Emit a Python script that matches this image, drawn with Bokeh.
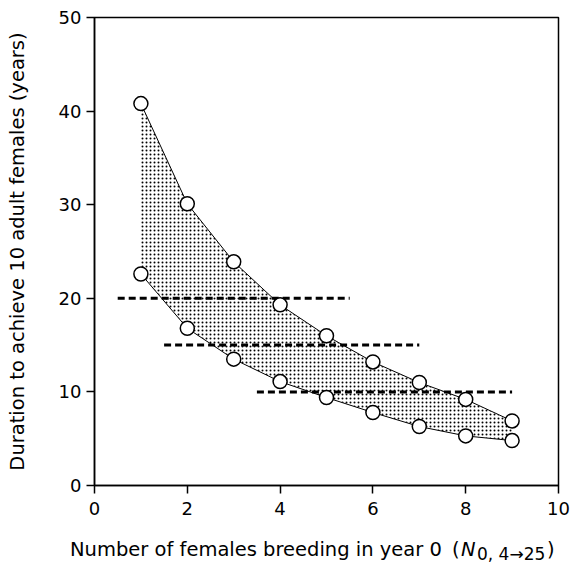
from bokeh.plotting import figure
from bokeh.models import Range1d, FixedTicker, Div
from bokeh.layouts import column
from bokeh.embed import file_html
from bokeh.resources import INLINE

# Data
x_vals = [1, 2, 3, 4, 5, 6, 7, 8, 9]
upper = [40.8, 30.1, 23.9, 19.3, 16.0, 13.2, 11.0, 9.2, 6.9]
lower = [22.6, 16.8, 13.5, 11.1, 9.4, 7.8, 6.3, 5.3, 4.8]
ref_levels = [20, 15, 10]
ref_starts = [0.5, 1.5, 3.5]
ref_ends = [5.5, 7.0, 9.0]
x_ticks = [0, 2, 4, 6, 8, 10]
y_ticks = [0, 10, 20, 30, 40, 50]
x_label_main = "Number of females breeding in year 0"
x_label_sym = "N"
x_label_sub = "0, 4\u219225"
y_label = "Duration to achieve 10 adult females (years)"

FONT = "DejaVu Sans"

p = figure(width=571, height=530, output_backend="svg", toolbar_location=None,
           x_range=Range1d(0, 10), y_range=Range1d(0, 50),
           min_border_left=94, min_border_right=13, min_border_top=17, min_border_bottom=45)

p.background_fill_color = "white"
p.border_fill_color = "white"
p.outline_line_color = "black"
p.outline_line_width = 1.5
p.xgrid.visible = False
p.ygrid.visible = False

for ax in (p.xaxis[0], p.yaxis[0]):
    ax.major_label_text_font = FONT
    ax.major_label_text_font_size = "18px"
    ax.major_label_text_color = "black"
    ax.axis_line_color = "black"
    ax.axis_line_width = 1.5
    ax.major_tick_line_width = 1.5
    ax.major_tick_out = 8
    ax.major_tick_in = 0
    ax.minor_tick_out = 0
    ax.minor_tick_in = 0

p.xaxis.ticker = FixedTicker(ticks=x_ticks)
p.yaxis.ticker = FixedTicker(ticks=y_ticks)
p.xaxis.major_label_standoff = 8
p.yaxis.major_label_standoff = 5

p.yaxis.axis_label = y_label
p.yaxis.axis_label_text_font = FONT
p.yaxis.axis_label_text_font_size = "19.5px"
p.yaxis.axis_label_text_font_style = "normal"
p.yaxis.axis_label_text_color = "black"
p.yaxis.axis_label_standoff = 27

# Shaded band
p.varea(x=x_vals, y1=lower, y2=upper, fill_color="white", fill_alpha=1,
        hatch_pattern=".", hatch_color="black", hatch_scale=4, hatch_weight=1)

p.line(x_vals, upper, line_color="black", line_width=1)
p.line(x_vals, lower, line_color="black", line_width=1)

# dashed reference lines
p.segment(x0=ref_starts, y0=ref_levels, x1=ref_ends, y1=ref_levels,
          line_color="black", line_width=3, line_dash="7 4")

p.scatter(x_vals, upper, size=14, marker="circle", fill_color="white", line_color="black", line_width=1.5)
p.scatter(x_vals, lower, size=14, marker="circle", fill_color="white", line_color="black", line_width=1.5)

# X-axis label with mixed formatting (italic symbol + subscript), as real text
span = "position:absolute;white-space:nowrap;line-height:1;"
html = (
    f'<div style="position:relative;width:571px;height:36px;font-family:\'{FONT}\';color:black;">'
    f'<span style="{span}left:70px;top:10px;font-size:19.5px;">{x_label_main}</span>'
    f'<span style="{span}left:452px;top:10px;font-size:19.5px;">(</span>'
    f'<span style="{span}left:461px;top:10px;font-size:19.5px;font-style:italic;">{x_label_sym}</span>'
    f'<span style="{span}left:477px;top:16px;font-size:17px;">{x_label_sub}</span>'
    f'<span style="{span}left:547px;top:10px;font-size:19.5px;">)</span>'
    '</div>'
)
xlab = Div(text=html, width=571, height=36, margin=(0, 0, 0, 0))

layout = column(p, xlab, spacing=0)
open("out.html", "w").write(file_html(layout, INLINE))
